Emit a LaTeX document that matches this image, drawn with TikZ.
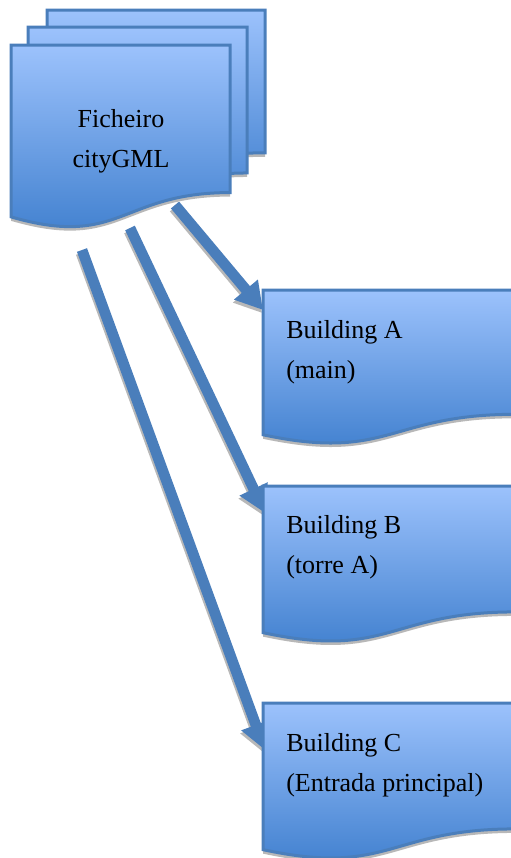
\documentclass[tikz,border=0pt]{standalone}
\usepackage{fontspec}
\setmainfont{Liberation Serif}
\usetikzlibrary{arrows.meta}
\definecolor{docTop}{HTML}{9CC2FC}
\definecolor{docBot}{HTML}{3B7CCC}
\definecolor{edgeblue}{HTML}{4A7EBB}
\definecolor{shadowgray}{HTML}{B8B8B8}
\newcommand\docpth[4]{(#1,#2) -- ({#1+#3},#2) -- ({#1+#3},{#2+0.802*#4}) .. controls ({#1+0.5*#3},{#2+0.802*#4}) and ({#1+0.5*#3},{#2+1.107*#4}) .. (#1,{#2+0.934*#4}) -- cycle}
\newcommand\mydoc[4]{%
  \fill[shadowgray] \docpth{#1}{#2+4}{#3}{#4};
  \shade[top color=docTop,bottom color=docBot] \docpth{#1}{#2}{#3}{#4};
  \draw[docedge] \docpth{#1}{#2}{#3}{#4};}
\tikzset{
  docedge/.style={edgeblue,line width=2.25pt,line join=miter},
  flow/.style={edgeblue,line width=8pt,-{Triangle[length=20pt,width=22pt]}},
  flowshadow/.style={shadowgray,line width=8pt,-{Triangle[length=20pt,width=22pt]}},
  label/.style={inner sep=0pt,font=\fontsize{19.5}{30}\selectfont}
}
\begin{document}
\begin{tikzpicture}[x=0.75pt,y=-0.75pt]
\useasboundingbox (0,0) rectangle (511,858);
\clip (0,0) rectangle (511,858);
% arrow end points
\coordinate (s1) at (175,205);
\coordinate (t1) at (263,310);
\coordinate (s2) at (130,228);
\coordinate (t2) at (265,513);
\coordinate (s3) at (82,250);
\coordinate (t3) at (265,750);
% arrows with shadows
\foreach \a/\b in {s1/t1,s2/t2,s3/t3}{
  \draw[flowshadow] ([shift={(-1,3)}]\a) -- ([shift={(-1,3)}]\b);
  \draw[flow] (\a) -- (\b);
}
% multi-document (cityGML)
\mydoc{47}{10}{218}{178}
\mydoc{28}{27}{219}{182}
\mydoc{11}{45}{219}{184}
\node[label,anchor=base] (fic) at (121,127) {\begin{tabular}[t]{@{}c@{}}Ficheiro\\cityGML\end{tabular}};
% buildings
\mydoc{263}{290}{252}{155}
\node[label,anchor=base west] (ba) at (286,338) {\begin{tabular}[t]{@{}l@{}}Building A\\(main)\end{tabular}};
\mydoc{263}{486}{252}{157}
\node[label,anchor=base west] (bb) at (286,533) {\begin{tabular}[t]{@{}l@{}}Building B\\(torre A)\end{tabular}};
\mydoc{263}{703}{252}{157}
\node[label,anchor=base west] (bc) at (286,751) {\begin{tabular}[t]{@{}l@{}}Building C\\(Entrada principal)\end{tabular}};
\end{tikzpicture}
\end{document}
